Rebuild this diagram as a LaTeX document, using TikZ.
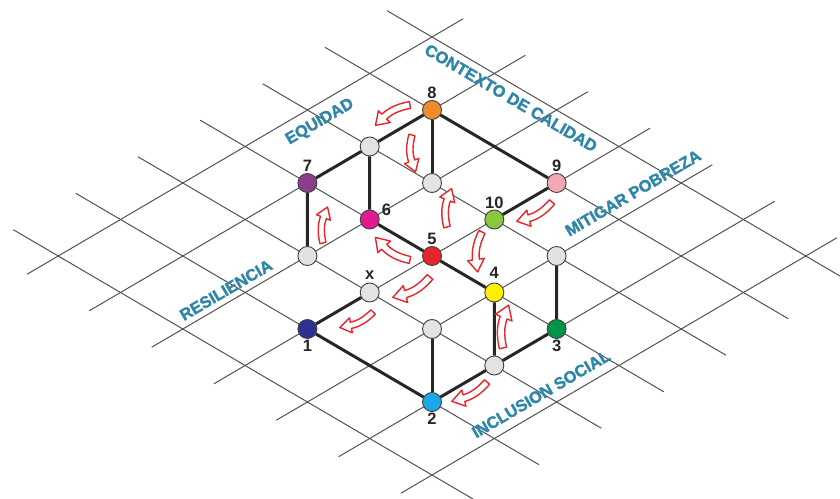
\documentclass[tikz,border=0pt]{standalone}
\usepackage{fontspec}
\setmainfont{Liberation Sans}
\newfontfamily\rotfont[FakeBold=1.8]{Liberation Sans Bold}
\usepackage{tikz}
\usetikzlibrary{positioning}

\definecolor{rotblue}{HTML}{2F86A8}
\definecolor{flechared}{HTML}{E8262A}
\definecolor{gristono}{HTML}{E3E3E3}
\definecolor{c1}{HTML}{2E3192}
\definecolor{c2}{HTML}{1BA8E8}
\definecolor{c3}{HTML}{00934A}
\definecolor{c4}{HTML}{FFF100}
\definecolor{c5}{HTML}{E5262B}
\definecolor{c6}{HTML}{E3198F}
\definecolor{c7}{HTML}{8B3E8A}
\definecolor{c8}{HTML}{F28A2E}
\definecolor{c9}{HTML}{F2A9B3}
\definecolor{c10}{HTML}{8CC63F}

\tikzset{
  punto/.style={circle, draw=black!75, line width=0.9pt, minimum size=19pt, inner sep=0pt},
  gris/.style={punto, fill=gristono},
  num/.style={font=\fontsize{16.5}{18}\selectfont\bfseries, text=black!85, inner sep=1pt},
  eje/.style={line width=3pt, black!85},
  rejilla/.style={line width=1pt, black!68},
  rotulo/.style={font=\rotfont\fontsize{16.4}{18}\selectfont, text=rotblue, inner sep=0pt},
  flecha/.pic={
    \filldraw[draw=flechared, fill=white, line width=1.4pt, line join=round]
      (1.1,3.1) .. controls (10.8,-0.4) and (19.1,-1.2) .. (26.2,0.7) -- (24.9,5.2)
      -- (38.6,0.6) -- (29.1,-10.2) -- (27.9,-5.7)
      .. controls (19.5,-7.9) and (9.8,-7.1) .. (-1.1,-3.1) -- cycle;
  }
}

\begin{document}
\begin{tikzpicture}[x=1pt,y=1pt]
    \useasboundingbox (0,0) rectangle (840,498);
    \clip (0,0) rectangle (840,498);

    \begin{scope}[shift={(432,96)}, x={(62.3pt,36.5pt)}, y={(-62.3pt,36.5pt)}]
        \foreach \j in {-1,...,5}
            \draw[rejilla] (\j,-1.72) -- (\j,5.72);
        \foreach \k in {-1,...,5}
            \draw[rejilla] (-1.5,\k) -- (5.5,\k);

        \node[punto, fill=c1] (n1) at (0,2) {};
        \node[punto, fill=c2] (n2) at (0,0) {};
        \node[punto, fill=c3] (n3) at (2,0) {};
        \node[punto, fill=c4] (n4) at (2,1) {};
        \node[punto, fill=c5] (n5) at (2,2) {};
        \node[punto, fill=c6] (n6) at (2,3) {};
        \node[punto, fill=c7] (n7) at (2,4) {};
        \node[punto, fill=c8] (n8) at (4,4) {};
        \node[punto, fill=c9] (n9) at (4,2) {};
        \node[punto, fill=c10] (n10) at (3,2) {};
        \node[gris] (nx) at (1,2) {};
        \node[gris] (gA) at (1,0) {};
        \node[gris] (gB) at (3,1) {};
        \node[gris] (gC) at (1,1) {};
        \node[gris] (gD) at (1,3) {};
        \node[gris] (gE) at (3,3) {};
        \node[gris] (gF) at (3,4) {};
    \end{scope}

    \draw[eje] (n1) -- (n2) -- (gA) -- (n3) -- (gB);
    \draw[eje] (gC) -- (n2);
    \draw[eje] (n1) -- (nx);
    \draw[eje] (gA) -- (n4) -- (n5) -- (n6) -- (gF);
    \draw[eje] (gD) -- (n7) -- (gF) -- (n8) -- (n9) -- (n10);
    \draw[eje] (n8) -- (gE);

    \node[num, above=0pt of n8] (l8) {8};
    \node[num, above=0pt of n7] (l7) {7};
    \node[num, above right=-4pt and 4pt of n6] (l6) {6};
    \node[num, above=0pt of n5] (l5) {5};
    \node[num, above=3pt of n4] (l4) {4};
    \node[num, above=0pt of n10] (l10) {10};
    \node[num, above=0pt of n9] (l9) {9};
    \node[num, above=2pt of nx] (lx) {x};
    \node[num, below=0pt of n1] (l1) {1};
    \node[num, below=0pt of n2] (l2) {2};
    \node[num, below=0pt of n3] (l3) {3};

    \node[rotulo, rotate=-30.4] (tcal) at (511,400) {CONTEXTO DE CALIDAD};
    \node[rotulo, rotate=30.4] (tequ) at (320,376) {EQUIDAD};
    \node[rotulo, rotate=30.4] (tres) at (226,208) {RESILIENCIA};
    \node[rotulo, rotate=30.4] (tpob) at (633,305) {MITIGAR POBREZA};
    \node[rotulo, rotate=30.4] (tinc) at (541,104) {INCLUSION SOCIAL};

    \foreach \px/\py/\ang/\sc/\ys in {410/393/209.7/1.04/1, 412/363/274.6/0.96/1,
        447/271/84.1/1.0/-1, 410/238/147.8/1.07/-1, 430/221/209.6/1.1/-1,
        373/186/205.9/0.95/-1, 552/296/209.7/1.04/-1, 482/266/262.9/1.04/1,
        503/150/83.4/1.12/-1, 487/116/209.7/1.04/-1, 323/255/83.7/0.94/-1}
        \pic[rotate=\ang, scale=\sc, yscale=\ys] at (\px,\py) {flecha};
\end{tikzpicture}
\end{document}
